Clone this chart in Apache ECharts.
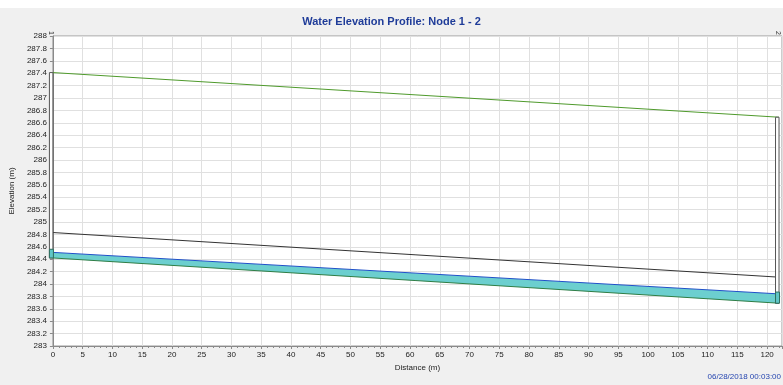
<!DOCTYPE html>
<html>
<head>
<meta charset="utf-8">
<script src="https://cdn.jsdelivr.net/npm/echarts@6/dist/echarts.min.js"></script>
<style>
html,body{margin:0;padding:0;background:#f0f0f0;}
#chart{width:783px;height:385px;}
</style>
</head>
<body>
<div id="chart"></div>
<script>
// ---- data ----
const stations = [0, 122];
const groundElev = [287.41, 286.69];
const crownElev = [284.83, 284.11];
const waterElev = [284.51, 283.84];
const invertElev = [284.42, 283.69];
const nodeNames = ['1', '2'];
const nodeWaterElev = [284.56, 283.87];
const titleText = 'Water Elevation Profile: Node 1 - 2';
const timeStamp = '06/28/2018 00:03:00';
const xName = 'Distance (m)';
const yName = 'Elevation (m)';

const FONT = 'Liberation Sans, Arial, sans-serif';

const pairs = (ys) => stations.map((s, i) => [s, ys[i]]);

const chart = echarts.init(document.getElementById('chart'), null, {renderer: 'canvas'});

const nodeData = stations.map((s, i) => [s, invertElev[i], groundElev[i], nodeWaterElev[i], i]);
const fillData = [];
for (let i = 0; i < stations.length - 1; i++) {
  fillData.push([stations[i], invertElev[i], waterElev[i], stations[i + 1], invertElev[i + 1], waterElev[i + 1]]);
}

chart.setOption({
  animation: false,
  backgroundColor: '#f0f0f0',
  title: {
    text: titleText,
    left: 'center',
    top: 11,
    textStyle: {fontFamily: FONT, fontSize: 11, fontWeight: 'bold', color: '#1f3c99'}
  },
  graphic: [
    {type: 'rect', shape: {x: 0, y: 0, width: 783, height: 8}, style: {fill: '#ffffff'}, z: -10, silent: true},
    {type: 'text', right: 2, bottom: 4, style: {text: timeStamp, fontFamily: FONT, fontSize: 8, fill: '#2646b0'}}
  ],
  grid: {
    left: 52, right: 1, top: 36, bottom: 39,
    show: true, backgroundColor: '#ffffff', borderColor: '#9a9a9a', borderWidth: 1
  },
  xAxis: {
    type: 'value', min: 0, max: 122.5, interval: 5,
    name: xName, nameLocation: 'middle', nameGap: 14,
    nameTextStyle: {fontFamily: FONT, fontSize: 8, color: '#222'},
    axisLine: {show: true, lineStyle: {color: '#8a8a8a'}},
    axisTick: {show: true, length: 3, lineStyle: {color: '#8a8a8a'}},
    minorTick: {show: true, splitNumber: 5, length: 2, lineStyle: {color: '#8a8a8a'}},
    axisLabel: {fontFamily: FONT, fontSize: 8, color: '#222', margin: 5, showMaxLabel: false},
    splitLine: {show: true, lineStyle: {color: '#e0e0e0', width: 1}}
  },
  yAxis: {
    type: 'value', min: 283, max: 288, interval: 0.2,
    name: yName, nameLocation: 'middle', nameGap: 29, nameRotate: 90,
    nameTextStyle: {fontFamily: FONT, fontSize: 8, color: '#222'},
    axisLine: {show: true, lineStyle: {color: '#8a8a8a'}},
    axisTick: {show: true, length: 3, lineStyle: {color: '#8a8a8a'}},
    axisLabel: {fontFamily: FONT, fontSize: 8, color: '#222', margin: 6},
    splitLine: {show: true, lineStyle: {color: '#e0e0e0', width: 1}}
  },
  series: [
    {
      name: 'waterFill', type: 'custom', z: 2, data: fillData,
      renderItem: function (params, api) {
        const a = api.coord([api.value(0), api.value(1)]);
        const b = api.coord([api.value(0), api.value(2)]);
        const c = api.coord([api.value(3), api.value(5)]);
        const d = api.coord([api.value(3), api.value(4)]);
        return {type: 'polygon', shape: {points: [a, b, c, d]}, style: {fill: '#6ccfcf', stroke: null}};
      }
    },
    {
      name: 'invert', type: 'line', data: pairs(invertElev),
      symbol: 'none', lineStyle: {color: '#2f7d45', width: 1}, z: 3
    },
    {
      name: 'water', type: 'line', data: pairs(waterElev),
      symbol: 'none', lineStyle: {color: '#2050c8', width: 1}, z: 3
    },
    {
      name: 'crown', type: 'line', data: pairs(crownElev),
      symbol: 'none', lineStyle: {color: '#333333', width: 1}, z: 3
    },
    {
      name: 'ground', type: 'line', data: pairs(groundElev),
      symbol: 'none', lineStyle: {color: '#4f9a2c', width: 1}, z: 3
    },
    {
      name: 'nodes', type: 'custom', clip: false, z: 5,
      data: nodeData,
      renderItem: function (params, api) {
        const st = api.value(0);
        const pInv = api.coord([st, api.value(1)]);
        const pGnd = api.coord([st, api.value(2)]);
        const pWat = api.coord([st, api.value(3)]);
        const pTop = api.coord([st, 288]);
        const x1 = pInv[0];
        const idx = api.value(4);
        return {
          type: 'group',
          children: [
            {type: 'rect', shape: {x: x1 - 3.5, y: pGnd[1], width: 3.5, height: pInv[1] - pGnd[1]},
             style: {fill: '#ffffff', stroke: '#555555', lineWidth: 1}},
            {type: 'rect', shape: {x: x1 - 3.5, y: pWat[1], width: 4, height: pInv[1] - pWat[1]},
             style: {fill: '#5fc6c6', stroke: '#2f6f5f', lineWidth: 1}},
            {type: 'text', x: x1 - 1.5, y: pTop[1] - 1, rotation: -Math.PI / 2,
             style: {text: nodeNames[idx], fontFamily: FONT, fontSize: 7, fill: '#333',
                     align: 'right', verticalAlign: 'middle'}}
          ]
        };
      }
    }
  ]
});
</script>
</body>
</html>
